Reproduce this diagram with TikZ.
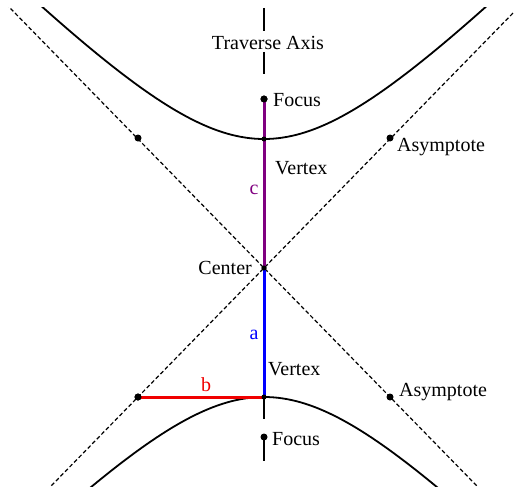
\documentclass[tikz,border=0pt]{standalone}
\usepackage{fontspec}
\setmainfont{Liberation Serif}
\definecolor{cpurple}{RGB}{128,0,128}
\definecolor{cblue}{RGB}{0,0,255}
\definecolor{cred}{RGB}{240,0,0}
\begin{document}
\begin{tikzpicture}[x=1pt,y=-1pt,
  dot/.style={circle,fill=black,inner sep=0pt,minimum size=7pt},
  smalldot/.style={circle,fill=black,inner sep=0pt,minimum size=5pt},
  asym/.style={line width=1.2pt,dash pattern=on 4pt off 2.5pt},
  branch/.style={line width=1.8pt},
  seg/.style={line width=3pt},
  lab/.style={font=\fontsize{20}{24}\selectfont,inner sep=0pt}]
\useasboundingbox (0,0) rectangle (514,487);
\begin{scope}
\clip (0,8) rectangle (514,487);
% hyperbola branches
\draw[branch] plot[domain=-280:280,samples=121] ({264+\x},{268-129*sqrt(1+(\x/126)*(\x/126))});
\draw[branch] plot[domain=-280:280,samples=121] ({264+\x},{268+129*sqrt(1+(\x/126)*(\x/126))});
% asymptotes
\draw[asym] ({264-126*2.3},{268-129*2.3}) -- ({264+126*2.3},{268+129*2.3});
\draw[asym] ({264+126*2.3},{268-129*2.3}) -- ({264-126*2.3},{268+129*2.3});
\end{scope}
% points
\node[dot] (F1) at (264,99) {};
\node[smalldot] (V1) at (264,139) {};
\node[smalldot] (C) at (264,268) {};
\node[smalldot] (V2) at (264,397) {};
\node[dot] (F2) at (264,437) {};
\node[dot] (A1) at (138,138) {};
\node[dot] (A2) at (390,138) {};
\node[dot] (A3) at (138,397) {};
\node[dot] (A4) at (390,397) {};
% axis segments
\coordinate (t1) at (264,8);
\coordinate (t2) at (264,31);
\coordinate (t3) at (264,52);
\coordinate (t4) at (264,74);
\coordinate (b1) at (264,419);
\coordinate (b2) at (264,461);
\draw[line width=2pt] (t1) -- (t2);
\draw[line width=2pt] (t3) -- (t4);
\draw[line width=2pt] (V2.center) -- (b1);
\draw[line width=2pt] (F2.center) -- (b2);
% c, a, b segments
\draw[seg,cpurple] (F1.center) -- (C.center);
\draw[seg,cblue] (C.center) -- (V2.center);
\draw[seg,cred] (A3.center) -- (V2.center);
% redraw dots on top
\fill (F1.center) circle (3.5pt);
\fill (V1.center) circle (2.5pt);
\fill (C.center) circle (2.5pt);
\fill (V2.center) circle (2.5pt);
\fill (A3.center) circle (3.5pt);
% labels
\node[lab] (lTA) at (268,43) {Traverse Axis};
\node[lab,anchor=west] (lF1) at (273,100) {Focus};
\node[lab,anchor=west] (lV1) at (275,168) {Vertex};
\node[lab,text=cpurple] (lc) at (254,190) {c};
\node[lab,anchor=east] (lC) at (252,268) {Center};
\node[lab,text=cblue] (la) at (254,335) {a};
\node[lab,anchor=west] (lV2) at (268,369) {Vertex};
\node[lab,text=cred] (lb) at (206,385) {b};
\node[lab,anchor=west] (lF2) at (272,439) {Focus};
\node[lab,anchor=west] (lA2) at (397,147) {Asymptote};
\node[lab,anchor=west] (lA4) at (399,392) {Asymptote};
\end{tikzpicture}
\end{document}
